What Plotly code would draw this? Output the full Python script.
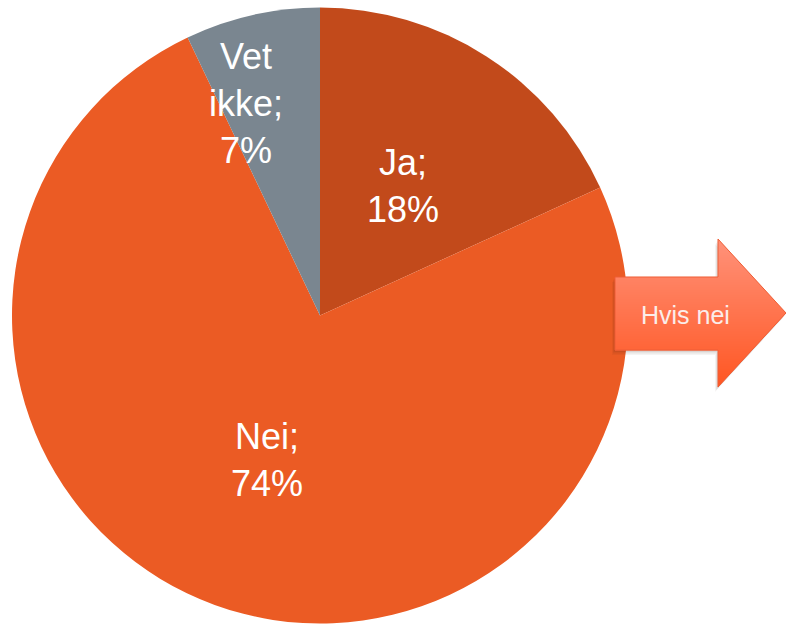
import math
import plotly.graph_objects as go

# ---- data ----
categories = ["Ja", "Nei", "Vet ikke"]
label_text = ["Ja;<br>18%", "Nei;<br>74%", "Vet<br>ikke;<br>7%"]
values = [18, 74, 7]
colors = ["#C24A1B", "#EB5B24", "#7A8690"]
arrow_text = "Hvis nei"

# ---- layout / style ----
W, H = 786, 624
cx, cy, R = 320, 315.5, 308          # pie centre and radius (pixels)
label_rfrac = [0.5, 0.5, 0.73]       # radial placement of labels
label_nudge = [0, 0, -6.6]           # angular nudge (deg) of labels
label_size = 36

def px2paper(x, y):
    return x / W, 1 - y / H

fig = go.Figure()

fig.add_trace(go.Pie(
    labels=categories, values=values, sort=False, direction="clockwise",
    rotation=0, marker=dict(colors=colors, line=dict(width=0)),
    textinfo="none", hoverinfo="label+percent", showlegend=False,
    domain=dict(x=[(cx - R) / W, (cx + R) / W],
                y=[(H - (cy + R)) / H, (H - (cy - R)) / H]),
))

# labels at slice mid-angles
total = sum(values)
start = 0.0
annotations = []
for i, v in enumerate(values):
    ang = 360.0 * v / total
    mid = math.radians(start + ang / 2 + label_nudge[i])
    start += ang
    px = cx + label_rfrac[i] * R * math.sin(mid)
    py = cy - label_rfrac[i] * R * math.cos(mid)
    xp, yp = px2paper(px, py)
    annotations.append(dict(
        x=xp, y=yp, xref="paper", yref="paper",
        text=label_text[i], showarrow=False, xanchor="center", yanchor="middle",
        font=dict(family="Liberation Sans, Arial", size=label_size, color="white"),
    ))

# ---- arrow decoration (drawn above the pie with native shapes) ----
body_l, head_l, tip_x = 615, 718, 786
body_t, body_b = 277, 350
head_t, head_b, mid_y = 239, 387, 313

def right_edge(y):
    half = (head_b - head_t) / 2
    return head_l + (tip_x - head_l) * (1 - abs(y - mid_y) / half)

def left_edge(y0, y1):
    ym = (y0 + y1) / 2
    return body_l if body_t <= ym <= body_b else head_l

def poly_path(pts):
    s = ""
    for k, (x, y) in enumerate(pts):
        xp, yp = px2paper(x, y)
        s += ("M" if k == 0 else "L") + f"{xp:.5f},{yp:.5f} "
    return s + "Z"

outline = [(body_l, body_t), (head_l, body_t), (head_l, head_t), (tip_x, mid_y),
           (head_l, head_b), (head_l, body_b), (body_l, body_b)]

shapes = []
# soft shadow
for off, a in [(5, 0.05), (3.5, 0.07), (2, 0.08)]:
    shapes.append(dict(type="path", xref="paper", yref="paper", layer="above",
                       path=poly_path([(x - off * 0.6, y + off) for x, y in outline]),
                       fillcolor=f"rgba(60,30,20,{a})", line=dict(width=0)))

c_top = (255, 146, 122)
c_bot = (255, 86, 34)
for y0 in range(head_t, head_b):
    y1 = y0 + 1
    L = left_edge(y0, y1)
    t = (y0 + 0.5 - head_t) / (head_b - head_t)
    col = tuple(round(c_top[j] + (c_bot[j] - c_top[j]) * t) for j in range(3))
    pts = [(L, y0), (right_edge(y0), y0), (right_edge(min(y1 + 0.4, head_b)), y1 + 0.4),
           (L, y1 + 0.4)]
    shapes.append(dict(type="path", xref="paper", yref="paper", layer="above",
                       path=poly_path(pts), fillcolor="rgb(%d,%d,%d)" % col,
                       line=dict(width=0)))
shapes.append(dict(type="path", xref="paper", yref="paper", layer="above",
                   path=poly_path(outline), fillcolor="rgba(0,0,0,0)",
                   line=dict(color="#EE5E36", width=1)))

xa, ya = px2paper(685, 315)
annotations.append(dict(
    x=xa, y=ya, xref="paper", yref="paper", text=arrow_text, showarrow=False,
    xanchor="center", yanchor="middle",
    font=dict(family="Liberation Sans, Arial", size=25, color="#FBEDEA"),
))

fig.update_layout(
    width=W, height=H, margin=dict(l=0, r=0, t=0, b=0),
    paper_bgcolor="white", plot_bgcolor="rgba(0,0,0,0)",
    annotations=annotations, shapes=shapes,
)

fig.write_html("out.html", config={"displayModeBar": False},
               post_script="document.body.style.margin='0';")
